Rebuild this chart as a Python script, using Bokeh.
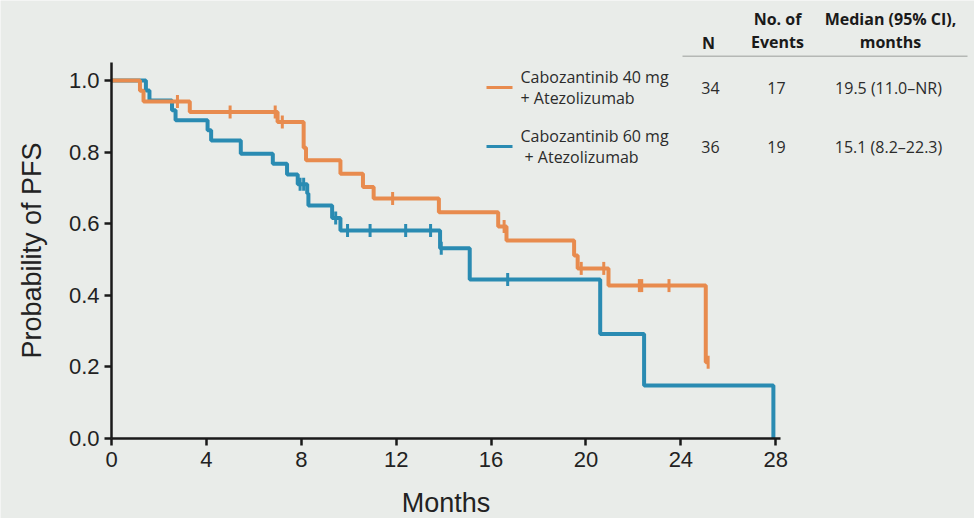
import numpy as np
from bokeh.plotting import figure
from bokeh.models import FixedTicker, Label, BoxAnnotation, Range1d
from bokeh.embed import file_html
from bokeh.resources import INLINE

# ---- Kaplan–Meier data (months, probability of PFS) ----
# Cabozantinib 40 mg + Atezolizumab
cabo40_event_months = [1.2, 1.35, 3.3, 7.0, 8.1, 8.2, 9.65, 10.6, 11.05, 13.8,
                       16.3, 16.65, 19.5, 19.65, 20.95, 25.05]
cabo40_pfs = [0.971, 0.941, 0.912, 0.884, 0.812, 0.777, 0.739, 0.702, 0.670, 0.632,
              0.592, 0.553, 0.511, 0.475, 0.427, 0.213]
cabo40_censored = [2.78, 5.0, 6.9, 7.2, 11.85, 16.55, 19.8, 20.75, 22.25, 22.35, 23.5, 25.15]

# Cabozantinib 60 mg + Atezolizumab
cabo60_event_months = [1.45, 1.6, 2.55, 2.7, 4.05, 4.2, 5.45, 6.8, 7.4, 7.85, 8.25, 8.3,
                       9.3, 9.65, 13.85, 15.1, 20.6, 22.45, 27.9]
cabo60_pfs = [0.972, 0.944, 0.917, 0.889, 0.861, 0.832, 0.795, 0.767, 0.737, 0.710, 0.684,
              0.651, 0.616, 0.581, 0.531, 0.444, 0.292, 0.148, 0.0]
cabo60_censored = [7.95, 8.1, 9.45, 9.95, 10.9, 12.4, 13.45, 13.9, 16.7]

x_ticks = [0, 4, 8, 12, 16, 20, 24, 28]
y_ticks = [0.0, 0.2, 0.4, 0.6, 0.8, 1.0]
y_tick_labels = ["0.0", "0.2", "0.4", "0.6", "0.8", "1.0"]

# summary table
arm_names = ["Cabozantinib 40 mg\n+ Atezolizumab", "Cabozantinib 60 mg\n + Atezolizumab"]
arm_n = ["34", "36"]
arm_events = ["17", "19"]
arm_median = ["19.5 (11.0\u2013NR)", "15.1 (8.2\u201322.3)"]

ORANGE = "#E88B4E"
BLUE = "#2A8BB2"
BG = "#E9ECE9"
INK = "#1A1A1A"

# The frame fills the whole canvas; both axes are pinned at the data origin
# and bounded to 0–28.2 months / 0–1.05, so titles and the summary table can
# be placed freely around them.
W, H = 974, 518
X_AXIS_END, Y_AXIS_END = 28.2, 1.05
ORIGIN_X, ORIGIN_Y = 111, 438          # canvas px of the data origin
AXIS_W, AXIS_H = 669, 376              # pixel length of the drawn axes

px_per_month = AXIS_W / X_AXIS_END
px_per_unit = AXIS_H / Y_AXIS_END
x_range = Range1d(-ORIGIN_X / px_per_month, (W - ORIGIN_X) / px_per_month)
y_range = Range1d(-(H - ORIGIN_Y) / px_per_unit, ORIGIN_Y / px_per_unit)


def km_path(times, surv, censored):
    """Step coordinates, extended to the last follow-up time."""
    xs = [0.0] + list(times)
    ys = [1.0] + list(surv)
    last = max(censored)
    if last > xs[-1] and ys[-1] > 0:
        xs.append(last)
        ys.append(ys[-1])
    return xs, ys


def level_at(times, surv, t):
    idx = np.searchsorted(np.asarray(times), t, side="right")
    return 1.0 if idx == 0 else surv[idx - 1]


p = figure(width=W, height=H, output_backend="svg", toolbar_location=None,
           x_range=x_range, y_range=y_range, min_border=0,
           background_fill_color=BG, border_fill_color=BG, outline_line_color=None)
p.grid.visible = False

for times, surv, cens, color in [
    (cabo60_event_months, cabo60_pfs, cabo60_censored, BLUE),
    (cabo40_event_months, cabo40_pfs, cabo40_censored, ORANGE),
]:
    xs, ys = km_path(times, surv, cens)
    p.step(xs, ys, mode="after", line_color=color, line_width=4)
    cy = [level_at(times, surv, t) for t in cens]
    p.scatter(cens, cy, marker="dash", angle=np.pi / 2, size=13,
              line_color=color, line_width=3)

# axes
for ax in (p.xaxis[0], p.yaxis[0]):
    ax.fixed_location = 0
    ax.axis_line_color = INK
    ax.axis_line_width = 2.5
    ax.major_tick_line_color = INK
    ax.major_tick_line_width = 2.5
    ax.major_tick_out = 7
    ax.major_tick_in = 0
    ax.minor_tick_line_color = None
    ax.major_label_text_font = "Liberation Sans"
    ax.major_label_text_font_size = "22px"
    ax.major_label_text_color = "#222222"

p.xaxis.bounds = (0, X_AXIS_END)
p.yaxis.bounds = (0, Y_AXIS_END)
p.xaxis.ticker = FixedTicker(ticks=x_ticks)
p.yaxis.ticker = FixedTicker(ticks=y_ticks)
p.yaxis.major_label_overrides = dict(zip(y_ticks, y_tick_labels))
p.xaxis.major_label_standoff = 6
p.yaxis.major_label_standoff = 5


# ---- text placed in canvas pixels (x right, y down) ----
def txt(px, py, text, align="center", bold=False, size="16px", color="#2B2B2B",
        font="Open Sans", angle=0.0):
    p.add_layout(Label(x=px, y=H - py, x_units="screen", y_units="screen",
                       text=text, text_align=align, text_baseline="middle",
                       text_font=font, text_font_size=size, angle=angle,
                       text_font_style="bold" if bold else "normal",
                       text_color=color))


def bar(left, right, top, bottom, color):
    p.add_layout(BoxAnnotation(left=left, right=right, bottom=H - bottom, top=H - top,
                               left_units="screen", right_units="screen",
                               bottom_units="screen", top_units="screen",
                               fill_color=color, fill_alpha=1, line_color=None))


# axis titles, centred on the drawn axes
txt(ORIGIN_X + AXIS_W / 2, 502, "Months", size="27px", color="#222222",
    font="Liberation Sans")
txt(31, ORIGIN_Y - AXIS_H / 2, "Probability of PFS", size="27px", color="#222222",
    font="Liberation Sans", angle=np.pi / 2)

# summary table
txt(708, 42, "N", bold=True, color=INK)
txt(777, 18, "No. of", bold=True, color=INK)
txt(777, 41, "Events", bold=True, color=INK)
txt(890, 18, "Median (95% CI),", bold=True, color=INK)
txt(890, 41, "months", bold=True, color=INK)
bar(682, 967, 55, 56.5, "#B5B8B5")

rows_y = [87, 146]
for yy, name, n, ev, med, color in zip(rows_y, arm_names, arm_n, arm_events, arm_median,
                                        [ORANGE, BLUE]):
    bar(486, 512, yy - 1.5, yy + 1.5, color)
    first, second = name.split("\n")
    indent = 4 if second.startswith(" ") else 0   # keep the leading space visible
    txt(520, yy - 11, first, align="left")
    txt(520 + indent, yy + 10, second.strip(), align="left")
    txt(710, yy, n)
    txt(776, yy, ev)
    txt(888, yy, med)

open("out.html", "w").write(file_html(p, INLINE))
